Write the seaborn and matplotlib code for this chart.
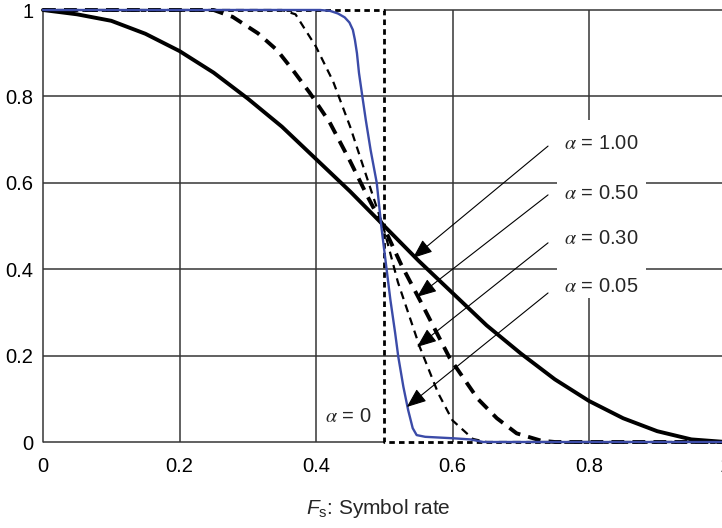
import matplotlib
matplotlib.use("Agg")
import matplotlib.pyplot as plt
import matplotlib.patches as mpatches
import seaborn as sns
import pandas as pd

# ---- data ----
x_a100 = [0.0, 0.05, 0.1, 0.15, 0.2, 0.25, 0.3, 0.35, 0.4, 0.45, 0.5, 0.55, 0.6, 0.65,
          0.7, 0.75, 0.8, 0.85, 0.9, 0.95, 1.0]
y_a100 = [1.0, 0.99, 0.975, 0.945, 0.905, 0.855, 0.795, 0.73, 0.655, 0.58, 0.5, 0.42,
          0.345, 0.27, 0.205, 0.145, 0.095, 0.055, 0.025, 0.006, 0.0]

x_a050 = [0.0, 0.25, 0.278, 0.315, 0.343, 0.366, 0.391, 0.42, 0.45, 0.475, 0.5, 0.525,
          0.555, 0.596, 0.637, 0.665, 0.694, 0.73, 0.75, 1.0]
y_a050 = [1.0, 1.0, 0.984, 0.946, 0.907, 0.861, 0.808, 0.74, 0.65, 0.57, 0.495, 0.41,
          0.32, 0.194, 0.10, 0.055, 0.02, 0.003, 0.0, 0.0]

x_a030 = [0.0, 0.35, 0.37, 0.4, 0.425, 0.45, 0.475, 0.5, 0.52, 0.552, 0.579, 0.6, 0.63,
          0.65, 1.0]
y_a030 = [1.0, 1.0, 0.99, 0.915, 0.835, 0.73, 0.61, 0.49, 0.37, 0.22, 0.113, 0.05, 0.007,
          0.0, 0.0]

x_a005 = [0.0, 0.406, 0.4205, 0.432, 0.442, 0.449, 0.454, 0.457, 0.460, 0.463, 0.468,
          0.473, 0.48, 0.489, 0.496, 0.509, 0.516, 0.5206, 0.528, 0.535, 0.5417, 0.5475,
          0.56, 0.601, 0.626, 0.645, 1.0]
y_a005 = [1.0, 1.0, 0.998, 0.992, 0.983, 0.971, 0.954, 0.931, 0.900, 0.854, 0.799,
          0.745, 0.676, 0.6, 0.495, 0.329, 0.252, 0.197, 0.128, 0.074, 0.032, 0.016,
          0.012, 0.0086, 0.006, 0.0, 0.0]

x_a000 = [0.0, 0.5, 0.5, 1.0]
y_a000 = [1.0, 1.0, 0.0, 0.0]

label_texts = [r"$\alpha$ = 1.00", r"$\alpha$ = 0.50", r"$\alpha$ = 0.30", r"$\alpha$ = 0.05"]
label_xy = [(0.763, 0.692), (0.763, 0.576), (0.763, 0.472), (0.763, 0.361)]
arrow_start = [(0.740, 0.685), (0.740, 0.572), (0.740, 0.461), (0.740, 0.345)]
arrow_end = [(0.542, 0.426), (0.548, 0.336), (0.548, 0.220), (0.533, 0.081)]

xticks = [0, 0.2, 0.4, 0.6, 0.8, 1.0]
xticklabels = ["0", "0.2", "0.4", "0.6", "0.8", "1"]
yticks = [0, 0.2, 0.4, 0.6, 0.8, 1.0]
yticklabels = ["0", "0.2", "0.4", "0.6", "0.8", "1"]

# ---- style ----
sns.set_theme(style="white")
plt.rcParams["font.family"] = ["Liberation Sans", "DejaVu Sans"]
plt.rcParams["mathtext.fontset"] = "custom"
plt.rcParams["mathtext.rm"] = "Liberation Sans"
plt.rcParams["mathtext.it"] = "Liberation Sans:italic"

fig = plt.figure(figsize=(7.22, 5.28), dpi=100)
ax = fig.add_axes([43 / 722, 86 / 528, 682.5 / 722, 432 / 528])
ax.set_xlim(0, 1)
ax.set_ylim(0, 1)
for s in ax.spines.values():
    s.set_visible(False)

grid_c = "#353535"
grid_lw = 1.1
for g in [0.2, 0.4, 0.6, 0.8]:
    ax.axhline(g, color=grid_c, lw=grid_lw, zorder=1)
    ax.axvline(g, color=grid_c, lw=grid_lw, zorder=1)
ax.axvline(0, color=grid_c, lw=grid_lw, zorder=1, clip_on=False)
ax.hlines(0, 0, 0.5, color=grid_c, lw=grid_lw, zorder=1, clip_on=False)
ax.hlines(1, 0.5, 1.0, color=grid_c, lw=grid_lw, zorder=1, clip_on=False)

# white box behind labels (gap in grid)
ax.add_patch(mpatches.Rectangle((0.753, 0.333), 0.131, 0.412, facecolor="white",
                                edgecolor="none", zorder=2))

def draw(xs, ys, **kw):
    df = pd.DataFrame({"x": xs, "y": ys})
    sns.lineplot(data=df, x="x", y="y", ax=ax, sort=False, estimator=None,
                 clip_on=False, **kw)

draw(x_a100, y_a100, color="black", linewidth=2.8, zorder=5)
draw(x_a050, y_a050, color="black", linewidth=2.8, linestyle=(0, (3.3, 2.1)), zorder=5)
draw(x_a030, y_a030, color="black", linewidth=1.6, linestyle=(0, (3.6, 2.6)), zorder=5)
draw(x_a005, y_a005, color="#3b4ba8", linewidth=1.7, zorder=6)
draw(x_a000, y_a000, color="black", linewidth=2.0, linestyle=(0, (2.0, 1.5)), zorder=4)

for txt, (tx, ty), s, e in zip(label_texts, label_xy, arrow_start, arrow_end):
    ax.text(tx, ty, txt, fontsize=14.5, ha="left", va="center", math_fontfamily="stix",
            zorder=7)
    ax.annotate("", xy=e, xytext=s,
                arrowprops=dict(arrowstyle="-|>,head_length=1.0,head_width=0.4",
                                color="black", lw=0.8, shrinkA=0, shrinkB=0),
                zorder=7)
ax.text(0.413, 0.060, r"$\alpha$ = 0", fontsize=14.5, ha="left", va="center",
        math_fontfamily="stix", zorder=7)

ax.set_xticks(xticks)
ax.set_xticklabels(xticklabels)
ax.set_yticks(yticks)
ax.set_yticklabels(yticklabels)
ax.tick_params(axis="both", length=0, labelsize=14.5, colors="black")
ax.tick_params(axis="x", pad=11)
ax.tick_params(axis="y", pad=7)
ax.set_xlabel("")
ax.set_ylabel("")

fig.text(378 / 722, 1 - 508 / 528, r"$F_{\mathrm{s}}$: Symbol rate", fontsize=15,
         ha="center", va="center")

fig.savefig("out.png", dpi=100)
